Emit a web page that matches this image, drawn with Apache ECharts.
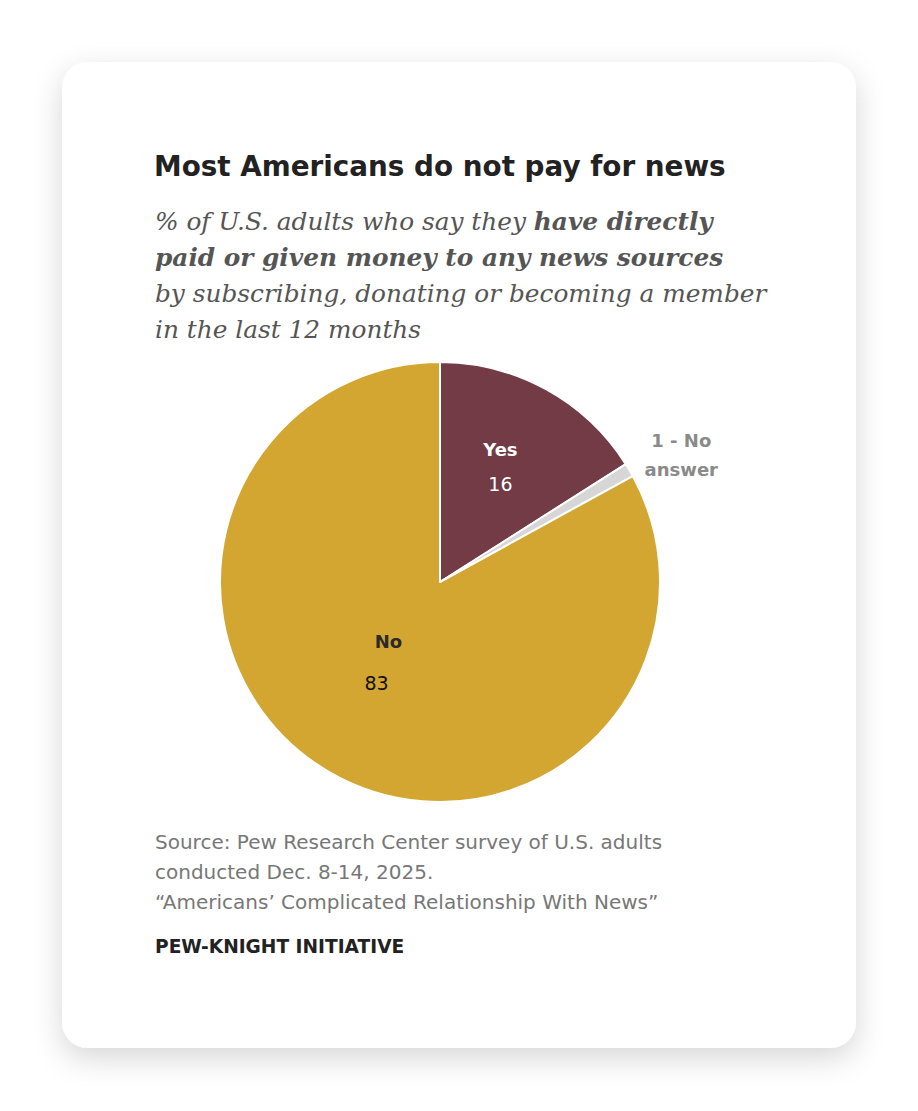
<!DOCTYPE html>
<html>
<head>
<meta charset="utf-8">
<style>
html,body{margin:0;padding:0;background:#ffffff;}
#chart{width:918px;height:1111px;}
</style>
<script src="https://cdn.jsdelivr.net/npm/echarts@6/dist/echarts.min.js"></script>
</head>
<body>
<div id="chart"></div>
<script>
const categories = ['Yes', '1 - No answer', 'No'];
const values = [16, 1, 83];
const labelNames = ['Yes', '1 - No\nanswer', 'No'];
const sliceColors = ['#723b46', '#d6d6d6', '#d3a631'];

const chart = echarts.init(document.getElementById('chart'), null, {renderer: 'svg'});

const SANS = '"DejaVu Sans"';
const option = {
  animation: false,
  backgroundColor: '#ffffff',
  graphic: [
    {
      type: 'rect', z: 0,
      shape: {x: 62, y: 62, width: 794, height: 986, r: 26},
      style: {fill: '#ffffff', shadowBlur: 30, shadowOffsetY: 10, shadowColor: 'rgba(0,0,0,0.16)'}
    },
    {
      type: 'text', z: 5, left: 154, top: 152,
      style: {text: 'Most Americans do not pay for news', font: 'bold 27.8px ' + SANS, fill: '#222222'}
    },
    {
      type: 'text', z: 5, left: 155, top: 209,
      style: {
        text: '{i|% of U.S. adults who say they }{b|have directly}\n{b|paid or given money to any news sources}\n{i|by subscribing, donating or becoming a member}\n{i|in the last 12 months}',
        rich: {
          i: {font: 'italic 24.8px "DejaVu Serif"', fill: '#555555', lineHeight: 36},
          b: {font: 'italic bold 24.8px "DejaVu Serif"', fill: '#555555', lineHeight: 36}
        }
      }
    },
    {
      type: 'text', z: 5, left: 155, top: 827,
      style: {
        text: 'Source: Pew Research Center survey of U.S. adults\nconducted Dec. 8-14, 2025.\n\u201cAmericans\u2019 Complicated Relationship With News\u201d',
        font: '20px ' + SANS, fill: '#777777', lineHeight: 30
      }
    },
    {
      type: 'text', z: 5, left: 155, top: 937,
      style: {text: 'PEW-KNIGHT INITIATIVE', font: 'bold 18.6px ' + SANS, fill: '#222222'}
    }
  ],
  series: [{
    type: 'pie',
    z: 3,
    center: [440, 582],
    radius: 220,
    startAngle: 90,
    clockwise: true,
    silent: true,
    emphasis: {disabled: true},
    itemStyle: {borderColor: '#ffffff', borderWidth: 2},
    labelLine: {show: false},
    data: categories.map((c, i) => ({
      name: c,
      value: values[i],
      itemStyle: {color: sliceColors[i]},
      label: i === 1 ? {
        position: 'outside', distance: 0,
        formatter: labelNames[i],
        fontFamily: 'DejaVu Sans', fontWeight: 'bold', fontSize: 18, color: '#8a8a8a', lineHeight: 29
      } : {
        position: 'inside',
        formatter: '{n|' + labelNames[i] + '}\n{v|' + values[i] + '}',
        rich: i === 0 ? {
          n: {fontFamily: 'DejaVu Sans', fontWeight: 'bold', fontSize: 18, color: '#ffffff', lineHeight: 34},
          v: {fontFamily: 'DejaVu Sans', fontSize: 19, color: '#ffffff', lineHeight: 34}
        } : {
          n: {fontFamily: 'DejaVu Sans', fontWeight: 'bold', fontSize: 18, color: '#2a2a2a', lineHeight: 42, padding: [0, 0, 0, 24]},
          v: {fontFamily: 'DejaVu Sans', fontSize: 19, color: '#111111', lineHeight: 42}
        }
      }
    })),
    labelLayout: function (p) {
      if (p.dataIndex === 0) return {dx: 6, dy: -16};
      if (p.dataIndex === 1) return {dx: 4, dy: -7, align: 'center'};
      return {dx: -6, dy: -17};
    }
  }]
};
chart.setOption(option);
</script>
</body>
</html>
